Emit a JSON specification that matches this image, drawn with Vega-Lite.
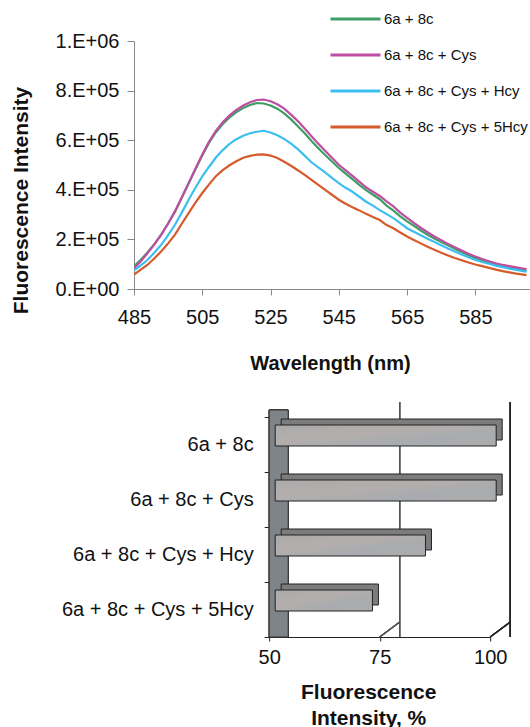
{
  "$schema": "https://vega.github.io/schema/vega-lite/v6.json",
  "background": "white",
  "padding": {"left": 10, "top": 11, "right": 0, "bottom": 0},
  "config": {
    "view": {"stroke": null},
    "font": "Liberation Sans",
    "axis": {"labelFont": "Liberation Sans", "titleFont": "Liberation Sans", "labelColor": "#111", "titleColor": "#111", "grid": false}
  },
  "datasets": {
    "spectra": [
      {"w":485,"6a + 8c":92000,"6a + 8c + Cys":83000,"6a + 8c + Cys + Hcy":75000,"6a + 8c + Cys + 5Hcy":58000},
      {"w":487,"6a + 8c":118000,"6a + 8c + Cys":112000,"6a + 8c + Cys + Hcy":95000,"6a + 8c + Cys + 5Hcy":78000},
      {"w":489,"6a + 8c":148000,"6a + 8c + Cys":145000,"6a + 8c + Cys + Hcy":118000,"6a + 8c + Cys + 5Hcy":98000},
      {"w":491,"6a + 8c":182000,"6a + 8c + Cys":180000,"6a + 8c + Cys + Hcy":147000,"6a + 8c + Cys + 5Hcy":124000},
      {"w":493,"6a + 8c":220000,"6a + 8c + Cys":219000,"6a + 8c + Cys + Hcy":179000,"6a + 8c + Cys + 5Hcy":152000},
      {"w":495,"6a + 8c":264000,"6a + 8c + Cys":264000,"6a + 8c + Cys + Hcy":217000,"6a + 8c + Cys + 5Hcy":184000},
      {"w":497,"6a + 8c":312000,"6a + 8c + Cys":313000,"6a + 8c + Cys + Hcy":259000,"6a + 8c + Cys + 5Hcy":219000},
      {"w":499,"6a + 8c":368000,"6a + 8c + Cys":370000,"6a + 8c + Cys + Hcy":308000,"6a + 8c + Cys + 5Hcy":263000},
      {"w":501,"6a + 8c":425000,"6a + 8c + Cys":427000,"6a + 8c + Cys + Hcy":360000,"6a + 8c + Cys + 5Hcy":306000},
      {"w":503,"6a + 8c":483000,"6a + 8c + Cys":485000,"6a + 8c + Cys + Hcy":408000,"6a + 8c + Cys + 5Hcy":348000},
      {"w":505,"6a + 8c":538000,"6a + 8c + Cys":542000,"6a + 8c + Cys + Hcy":454000,"6a + 8c + Cys + 5Hcy":387000},
      {"w":507,"6a + 8c":590000,"6a + 8c + Cys":595000,"6a + 8c + Cys + Hcy":493000,"6a + 8c + Cys + 5Hcy":422000},
      {"w":509,"6a + 8c":632000,"6a + 8c + Cys":638000,"6a + 8c + Cys + Hcy":530000,"6a + 8c + Cys + 5Hcy":455000},
      {"w":511,"6a + 8c":665000,"6a + 8c + Cys":672000,"6a + 8c + Cys + Hcy":560000,"6a + 8c + Cys + 5Hcy":479000},
      {"w":513,"6a + 8c":692000,"6a + 8c + Cys":700000,"6a + 8c + Cys + Hcy":585000,"6a + 8c + Cys + 5Hcy":499000},
      {"w":515,"6a + 8c":713000,"6a + 8c + Cys":722000,"6a + 8c + Cys + Hcy":604000,"6a + 8c + Cys + 5Hcy":515000},
      {"w":517,"6a + 8c":730000,"6a + 8c + Cys":740000,"6a + 8c + Cys + Hcy":618000,"6a + 8c + Cys + 5Hcy":529000},
      {"w":519,"6a + 8c":742000,"6a + 8c + Cys":753000,"6a + 8c + Cys + Hcy":628000,"6a + 8c + Cys + 5Hcy":537000},
      {"w":521,"6a + 8c":750000,"6a + 8c + Cys":762000,"6a + 8c + Cys + Hcy":634000,"6a + 8c + Cys + 5Hcy":542000},
      {"w":523,"6a + 8c":748000,"6a + 8c + Cys":764000,"6a + 8c + Cys + Hcy":638000,"6a + 8c + Cys + 5Hcy":543000},
      {"w":525,"6a + 8c":740000,"6a + 8c + Cys":757000,"6a + 8c + Cys + Hcy":631000,"6a + 8c + Cys + 5Hcy":538000},
      {"w":527,"6a + 8c":727000,"6a + 8c + Cys":745000,"6a + 8c + Cys + Hcy":620000,"6a + 8c + Cys + 5Hcy":528000},
      {"w":529,"6a + 8c":708000,"6a + 8c + Cys":727000,"6a + 8c + Cys + Hcy":605000,"6a + 8c + Cys + 5Hcy":513000},
      {"w":531,"6a + 8c":684000,"6a + 8c + Cys":703000,"6a + 8c + Cys + Hcy":586000,"6a + 8c + Cys + 5Hcy":497000},
      {"w":533,"6a + 8c":656000,"6a + 8c + Cys":677000,"6a + 8c + Cys + Hcy":564000,"6a + 8c + Cys + 5Hcy":479000},
      {"w":535,"6a + 8c":628000,"6a + 8c + Cys":647000,"6a + 8c + Cys + Hcy":538000,"6a + 8c + Cys + 5Hcy":460000},
      {"w":537,"6a + 8c":597000,"6a + 8c + Cys":616000,"6a + 8c + Cys + Hcy":511000,"6a + 8c + Cys + 5Hcy":440000},
      {"w":539,"6a + 8c":568000,"6a + 8c + Cys":586000,"6a + 8c + Cys + Hcy":490000,"6a + 8c + Cys + 5Hcy":420000},
      {"w":541,"6a + 8c":540000,"6a + 8c + Cys":557000,"6a + 8c + Cys + Hcy":470000,"6a + 8c + Cys + 5Hcy":400000},
      {"w":543,"6a + 8c":514000,"6a + 8c + Cys":529000,"6a + 8c + Cys + Hcy":448000,"6a + 8c + Cys + 5Hcy":380000},
      {"w":545,"6a + 8c":488000,"6a + 8c + Cys":501000,"6a + 8c + Cys + Hcy":427000,"6a + 8c + Cys + 5Hcy":360000},
      {"w":547,"6a + 8c":465000,"6a + 8c + Cys":478000,"6a + 8c + Cys + Hcy":408000,"6a + 8c + Cys + 5Hcy":344000},
      {"w":549,"6a + 8c":443000,"6a + 8c + Cys":456000,"6a + 8c + Cys + Hcy":392000,"6a + 8c + Cys + 5Hcy":330000},
      {"w":551,"6a + 8c":420000,"6a + 8c + Cys":433000,"6a + 8c + Cys + Hcy":372000,"6a + 8c + Cys + 5Hcy":317000},
      {"w":553,"6a + 8c":399000,"6a + 8c + Cys":410000,"6a + 8c + Cys + Hcy":352000,"6a + 8c + Cys + 5Hcy":303000},
      {"w":555,"6a + 8c":380000,"6a + 8c + Cys":392000,"6a + 8c + Cys + Hcy":336000,"6a + 8c + Cys + 5Hcy":290000},
      {"w":557,"6a + 8c":362000,"6a + 8c + Cys":375000,"6a + 8c + Cys + Hcy":318000,"6a + 8c + Cys + 5Hcy":278000},
      {"w":559,"6a + 8c":336000,"6a + 8c + Cys":353000,"6a + 8c + Cys + Hcy":302000,"6a + 8c + Cys + 5Hcy":258000},
      {"w":561,"6a + 8c":316000,"6a + 8c + Cys":333000,"6a + 8c + Cys + Hcy":286000,"6a + 8c + Cys + 5Hcy":245000},
      {"w":563,"6a + 8c":293000,"6a + 8c + Cys":308000,"6a + 8c + Cys + Hcy":266000,"6a + 8c + Cys + 5Hcy":228000},
      {"w":565,"6a + 8c":273000,"6a + 8c + Cys":287000,"6a + 8c + Cys + Hcy":245000,"6a + 8c + Cys + 5Hcy":212000},
      {"w":567,"6a + 8c":255000,"6a + 8c + Cys":267000,"6a + 8c + Cys + Hcy":231000,"6a + 8c + Cys + 5Hcy":198000},
      {"w":569,"6a + 8c":236000,"6a + 8c + Cys":247000,"6a + 8c + Cys + Hcy":217000,"6a + 8c + Cys + 5Hcy":184000},
      {"w":571,"6a + 8c":219000,"6a + 8c + Cys":229000,"6a + 8c + Cys + Hcy":203000,"6a + 8c + Cys + 5Hcy":170000},
      {"w":573,"6a + 8c":203000,"6a + 8c + Cys":212000,"6a + 8c + Cys + Hcy":190000,"6a + 8c + Cys + 5Hcy":158000},
      {"w":575,"6a + 8c":189000,"6a + 8c + Cys":197000,"6a + 8c + Cys + Hcy":176000,"6a + 8c + Cys + 5Hcy":146000},
      {"w":577,"6a + 8c":176000,"6a + 8c + Cys":182000,"6a + 8c + Cys + Hcy":163000,"6a + 8c + Cys + 5Hcy":135000},
      {"w":579,"6a + 8c":162000,"6a + 8c + Cys":168000,"6a + 8c + Cys + Hcy":151000,"6a + 8c + Cys + 5Hcy":125000},
      {"w":581,"6a + 8c":149000,"6a + 8c + Cys":155000,"6a + 8c + Cys + Hcy":139000,"6a + 8c + Cys + 5Hcy":116000},
      {"w":583,"6a + 8c":136000,"6a + 8c + Cys":142000,"6a + 8c + Cys + Hcy":128000,"6a + 8c + Cys + 5Hcy":107000},
      {"w":585,"6a + 8c":125000,"6a + 8c + Cys":131000,"6a + 8c + Cys + Hcy":117000,"6a + 8c + Cys + 5Hcy":99000},
      {"w":587,"6a + 8c":115000,"6a + 8c + Cys":121000,"6a + 8c + Cys + Hcy":109000,"6a + 8c + Cys + 5Hcy":92000},
      {"w":589,"6a + 8c":107000,"6a + 8c + Cys":112000,"6a + 8c + Cys + Hcy":102000,"6a + 8c + Cys + 5Hcy":85000},
      {"w":591,"6a + 8c":100000,"6a + 8c + Cys":104000,"6a + 8c + Cys + Hcy":94000,"6a + 8c + Cys + 5Hcy":78000},
      {"w":593,"6a + 8c":94000,"6a + 8c + Cys":97000,"6a + 8c + Cys + Hcy":88000,"6a + 8c + Cys + 5Hcy":72000},
      {"w":595,"6a + 8c":88000,"6a + 8c + Cys":92000,"6a + 8c + Cys + Hcy":82000,"6a + 8c + Cys + 5Hcy":67000},
      {"w":597,"6a + 8c":82000,"6a + 8c + Cys":87000,"6a + 8c + Cys + Hcy":77000,"6a + 8c + Cys + 5Hcy":62000},
      {"w":599,"6a + 8c":76000,"6a + 8c + Cys":82000,"6a + 8c + Cys + Hcy":72000,"6a + 8c + Cys + 5Hcy":58000},
      {"w":600,"6a + 8c":74000,"6a + 8c + Cys":80000,"6a + 8c + Cys + Hcy":70000,"6a + 8c + Cys + 5Hcy":56000}
    ],
    "bars": [
      {"sample": "6a + 8c", "pct": 100},
      {"sample": "6a + 8c + Cys", "pct": 100},
      {"sample": "6a + 8c + Cys + Hcy", "pct": 84},
      {"sample": "6a + 8c + Cys + 5Hcy", "pct": 72}
    ]
  },
  "vconcat": [
    {
      "width": 512,
      "height": 248,
      "data": {"name": "spectra"},
      "transform": [
        {"fold": ["6a + 8c", "6a + 8c + Cys", "6a + 8c + Cys + Hcy", "6a + 8c + Cys + 5Hcy"], "as": ["series", "intensity"]}
      ],
      "mark": {"type": "line", "strokeWidth": 2.2, "clip": true},
      "encoding": {
        "x": {
          "field": "w", "type": "quantitative",
          "scale": {"domain": [485, 635], "nice": false, "zero": false},
          "axis": {
            "title": "Wavelength (nm)", "values": [485, 505, 525, 545, 565, 585],
            "labelFontSize": 20, "titleFontSize": 20, "titleFontWeight": "bold",
            "domainColor": "#888", "tickColor": "#888", "tickSize": 6,
            "labelPadding": 12, "titlePadding": 26, "labelFlush": false, "titleX": 196
          }
        },
        "y": {
          "field": "intensity", "type": "quantitative",
          "scale": {"domain": [0, 1000000], "nice": false},
          "axis": {
            "title": "Fluorescence Intensity",
            "values": [0, 200000, 400000, 600000, 800000, 1000000],
            "labelExpr": "replace(format(datum.value, '.0e'), 'e+', '.E+0')",
            "labelFontSize": 20, "titleFontSize": 21, "titleFontWeight": "bold",
            "domainColor": "#888", "tickColor": "#888", "tickSize": 7,
            "labelPadding": 8, "titleY": 159, "titleX": -107, "titleAngle": -90,
            "titleBaseline": "alphabetic", "titleAlign": "center"
          }
        },
        "color": {
          "field": "series", "type": "nominal",
          "scale": {
            "domain": ["6a + 8c", "6a + 8c + Cys", "6a + 8c + Cys + Hcy", "6a + 8c + Cys + 5Hcy"],
            "range": ["#3d9f66", "#bf4ea3", "#3cbff0", "#d65a2c"]
          },
          "legend": {
            "orient": "none", "legendX": 195, "legendY": -30, "title": null,
            "symbolType": "stroke", "symbolSize": 2500, "symbolStrokeWidth": 3,
            "clipHeight": 16, "rowPadding": 20, "labelFontSize": 15, "labelOffset": 2,
            "labelColor": "#111", "labelFont": "Liberation Sans", "padding": 0
          }
        }
      }
    },
    {
      "width": 221,
      "height": 220,
      "data": {"name": "bars"},
      "encoding": {
        "y": {
          "field": "sample", "type": "nominal", "sort": null,
          "scale": {"paddingInner": 0, "paddingOuter": 0},
          "axis": {
            "title": null, "labelFontSize": 20, "labelPadding": 11, "tickSize": 5, "labelLimit": 0,
            "tickBand": "extent", "domainColor": "#222", "tickColor": "#222", "labelColor": "#111"
          }
        }
      },
      "layer": [
        {
          "mark": {"type": "rect", "color": "#7e8487", "stroke": "#333", "strokeWidth": 1, "x2Offset": 19, "yOffset": -7, "y2Offset": -7},
          "encoding": {"x": {"datum": 50, "type": "quantitative"}, "x2": {"datum": 50}, "y": null}
        },
        {
          "mark": {"type": "rule", "color": "#555", "strokeWidth": 1.2, "xOffset": 20, "yOffset": -15, "y2Offset": -15},
          "encoding": {"x": {"datum": 75, "type": "quantitative"}, "y": null}
        },
        {
          "mark": {"type": "rule", "color": "#222", "strokeWidth": 1.2, "xOffset": 20, "yOffset": -15, "y2Offset": -15},
          "encoding": {"x": {"datum": 100, "type": "quantitative"}, "y": null}
        },
        {
          "mark": {"type": "rule", "color": "#555", "strokeWidth": 1.2, "x2Offset": 20, "y2Offset": -15},
          "encoding": {"x": {"datum": 75, "type": "quantitative"}, "x2": {"datum": 75}, "y": {"value": "height"}, "y2": {"value": "height"}}
        },
        {
          "mark": {"type": "rule", "color": "#222", "strokeWidth": 1.2, "x2Offset": 20, "y2Offset": -15},
          "encoding": {"x": {"datum": 100, "type": "quantitative"}, "x2": {"datum": 100}, "y": {"value": "height"}, "y2": {"value": "height"}}
        },
        {
          "mark": {"type": "bar", "size": 21, "color": "#7c7c7c", "stroke": "#222", "strokeWidth": 1, "xOffset": 12, "x2Offset": 12, "yOffset": -15},
          "encoding": {
            "x": {"field": "pct", "type": "quantitative"},
            "x2": {"datum": 50}
          }
        },
        {
          "mark": {
            "type": "bar", "size": 21, "stroke": "#222", "strokeWidth": 1, "xOffset": 6, "x2Offset": 6, "yOffset": -9,
            "color": {"gradient": "linear", "x1": 0, "y1": 0, "x2": 1, "y2": 1,
              "stops": [{"offset": 0, "color": "#ababab"}, {"offset": 0.4, "color": "#b3aeac"}, {"offset": 0.7, "color": "#a8abaf"}, {"offset": 1, "color": "#acacac"}]}
          },
          "encoding": {
            "x": {
              "field": "pct", "type": "quantitative",
              "scale": {"domain": [50, 100], "nice": false, "zero": false},
              "axis": {
                "title": ["Fluorescence", "Intensity, %"], "values": [50, 75, 100],
                "labelFontSize": 20, "titleFontSize": 21, "titleFontWeight": "bold", "titleLineHeight": 26,
                "domainColor": "#222", "tickColor": "#222", "tickSize": 4, "labelPadding": 6, "titlePadding": 14,
                "labelFlush": false, "titleX": 99
              }
            },
            "x2": {"datum": 50}
          }
        }
      ]
    }
  ],
  "center": true,
  "spacing": 28
}
